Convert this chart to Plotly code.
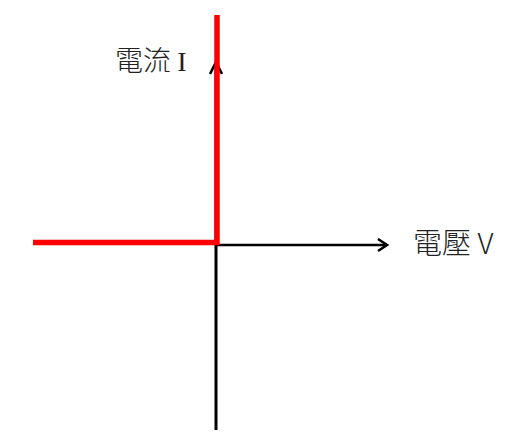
import plotly.graph_objects as go

# Ideal diode I-V characteristic (arbitrary units; origin at 0,0)
curve_v = [-183, 1, 1]
curve_i = [2.5, 2.5, 230]

# axes extents (arbitrary units)
v_axis = [0, 171]
i_axis = [-185, 183]
arrow_len = 9
arrow_half = 6

v_label = "電壓 V"
i_label = "電流 <span style='font-family:Liberation Serif'>I</span>"

fig = go.Figure()

# horizontal axis with open arrow head
fig.add_trace(go.Scatter(x=[v_axis[0], v_axis[1]], y=[0, 0], mode="lines",
                         line=dict(color="black", width=2.6), hoverinfo="skip"))
fig.add_trace(go.Scatter(x=[v_axis[1] - arrow_len, v_axis[1], v_axis[1] - arrow_len],
                         y=[arrow_half, 0, -arrow_half], mode="lines",
                         line=dict(color="black", width=2.6), hoverinfo="skip"))
# vertical axis with open arrow head
fig.add_trace(go.Scatter(x=[0, 0], y=[i_axis[0], i_axis[1]], mode="lines",
                         line=dict(color="black", width=3), hoverinfo="skip"))
fig.add_trace(go.Scatter(x=[-arrow_half, 0, arrow_half],
                         y=[i_axis[1] - arrow_len - 3, i_axis[1], i_axis[1] - arrow_len - 3],
                         mode="lines", line=dict(color="black", width=2.6), hoverinfo="skip"))

# red characteristic
fig.add_trace(go.Scatter(x=curve_v, y=curve_i, mode="lines",
                         line=dict(color="#ff0000", width=5.5), hoverinfo="skip"))

fig.add_annotation(x=v_axis[1] + 24, y=4, text=v_label, showarrow=False,
                   xanchor="left", yanchor="middle",
                   font=dict(family="Noto Sans CJK TC", size=29, color="#222", weight=300))
fig.add_annotation(x=-27, y=186, text=i_label, showarrow=False,
                   xanchor="right", yanchor="middle",
                   font=dict(family="Noto Sans CJK TC", size=28, color="#222", weight=300))

fig.update_layout(
    width=499, height=431, margin=dict(l=0, r=0, t=0, b=0),
    paper_bgcolor="white", plot_bgcolor="white", showlegend=False,
    xaxis=dict(range=[-208, 291], visible=False, fixedrange=True),
    yaxis=dict(range=[-194, 237], visible=False, fixedrange=True),
)

fig.write_html("out.html")
